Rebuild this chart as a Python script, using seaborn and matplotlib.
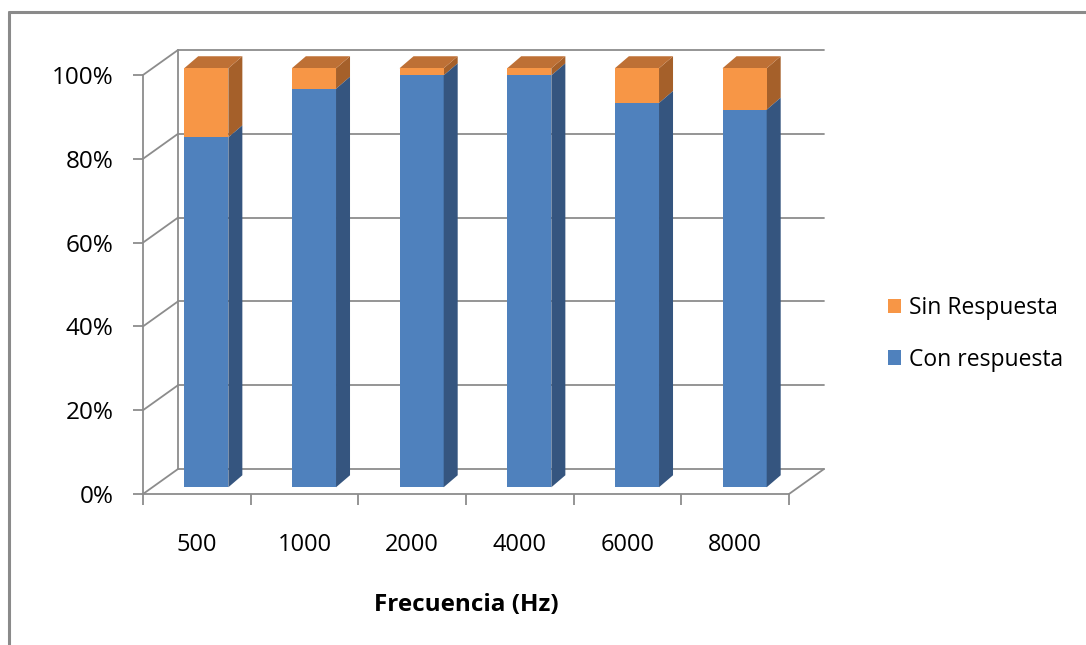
import numpy as np
import pandas as pd
import matplotlib
matplotlib.use("Agg")
import matplotlib.pyplot as plt
import seaborn as sns
from matplotlib.patches import Polygon, Patch
from matplotlib.lines import Line2D

# Datos
frecuencias = ["500", "1000", "2000", "4000", "6000", "8000"]
con_respuesta = [83.5, 95.1, 98.3, 98.3, 91.7, 90.1]
sin_respuesta = [100 - v for v in con_respuesta]
series = ["Sin Respuesta", "Con respuesta"]
yticks = [0, 20, 40, 60, 80, 100]
ytick_labels = ["0%", "20%", "40%", "60%", "80%", "100%"]

azul = "#4F81BD"
azul_lado = "#35557F"
naranja = "#F79646"
naranja_lado = "#A5602A"
naranja_top = "#BE7035"
gris = "#8C8C8C"

sns.set_style("white")
plt.rcParams["font.family"] = ["Open Sans", "DejaVu Sans"]
plt.rcParams["text.color"] = "black"
plt.rcParams["xtick.labelcolor"] = "black"
plt.rcParams["ytick.labelcolor"] = "black"
plt.rcParams["axes.labelcolor"] = "black"

W, H = 1086, 645
fig = plt.figure(figsize=(W / 100, H / 100), dpi=100)
ax = fig.add_axes([143 / W, (H - 494) / H, (789 - 143) / W, (494 - 75) / H])

df = pd.DataFrame({"Frecuencia": frecuencias,
                   "total": [100] * len(frecuencias),
                   "con": con_respuesta})

# barras frontales (naranja = total, azul encima)
ancho = 0.41
sns.barplot(data=df, x="Frecuencia", y="total", order=frecuencias, color=naranja,
            width=ancho, saturation=1, ax=ax, edgecolor="none")
n_nar = len(ax.patches)
sns.barplot(data=df, x="Frecuencia", y="con", order=frecuencias, color=azul,
            width=ancho, saturation=1, ax=ax, edgecolor="none")

ax.set_xlim(-0.5, len(frecuencias) - 0.5)
ax.set_ylim(0, 100)

# profundidad 3D en unidades de datos
px_x = (789 - 143) / len(frecuencias)
px_y = (494 - 75) / 100
DX, DY = 35 / px_x, 25 / px_y          # pared del fondo
f0 = 0.27                               # posición de la cara frontal de las barras
bdx, bdy = 14 / px_x, 12 / px_y         # profundidad de cada barra

# pared del fondo y suelo
for y in yticks:
    ax.plot([-0.5, -0.5 + DX], [y, y + DY], color=gris, lw=1.3, clip_on=False, zorder=0)
    ax.plot([-0.5 + DX, 5.5 + DX], [y + DY, y + DY], color=gris, lw=1.3, clip_on=False, zorder=0)
ax.plot([-0.5 + DX, -0.5 + DX], [DY, 100 + DY], color=gris, lw=1.3, clip_on=False, zorder=0)
ax.plot([5.5, 5.5 + DX], [0, DY], color=gris, lw=1.3, clip_on=False, zorder=0)

# desplazar barras y añadir caras laterales / superiores
ox, oy = f0 * DX, f0 * DY
for i, p in enumerate(list(ax.patches)):
    p.set_x(p.get_x() + ox)
    p.set_y(p.get_y() + oy)
    p.set_zorder(3)
    x0, y0 = p.get_x(), p.get_y()
    w, h = p.get_width(), p.get_height()
    if i < n_nar:
        ybot = con_respuesta[i] + oy
        lado = Polygon([(x0 + w, ybot), (x0 + w + bdx, ybot + bdy),
                        (x0 + w + bdx, y0 + h + bdy), (x0 + w, y0 + h)],
                       closed=True, facecolor=naranja_lado, edgecolor="none",
                       zorder=2, clip_on=False)
        top = Polygon([(x0, y0 + h), (x0 + bdx, y0 + h + bdy),
                       (x0 + w + bdx, y0 + h + bdy), (x0 + w, y0 + h)],
                      closed=True, facecolor=naranja_top, edgecolor="none",
                      zorder=2, clip_on=False)
        ax.add_patch(lado)
        ax.add_patch(top)
    else:
        lado = Polygon([(x0 + w, y0), (x0 + w + bdx, y0 + bdy),
                        (x0 + w + bdx, y0 + h + bdy), (x0 + w, y0 + h)],
                       closed=True, facecolor=azul_lado, edgecolor="none",
                       zorder=4, clip_on=False)
        ax.add_patch(lado)
    p.set_clip_on(False)

# ejes
sns.despine(ax=ax, top=True, right=True)
for s in ["left", "bottom"]:
    ax.spines[s].set_color(gris)
    ax.spines[s].set_linewidth(1.3)
ax.set_yticks(yticks)
ax.set_yticklabels(ytick_labels, fontsize=17.5)
ax.tick_params(axis="y", length=7, width=1.3, color=gris, pad=14, left=True)
ax.set_xticks(np.arange(-0.5, len(frecuencias), 1.0))
ax.set_xticklabels([])
ax.set_xticks(np.arange(len(frecuencias)), minor=True)
ax.set_xticklabels(frecuencias, minor=True, fontsize=17)
ax.tick_params(axis="x", which="major", length=8, width=1.3, color=gris, bottom=True)
ax.tick_params(axis="x", which="minor", length=0, pad=28)
ax.set_xlabel("Frecuencia (Hz)", fontsize=17.5, fontweight="bold", labelpad=26)
ax.set_ylabel("")
ax.grid(False)

# leyenda
handles = [Patch(facecolor=naranja, edgecolor="none"),
           Patch(facecolor=azul, edgecolor="none")]
fig.legend(handles, series, loc="center left", bbox_to_anchor=(867 / W, 1 - 334 / H),
           frameon=False, fontsize=16.5, handlelength=0.6, handleheight=0.6,
           labelspacing=1.2, handletextpad=0.35)

# marco del gráfico (izquierda y arriba)
fig.add_artist(Line2D([9 / W, 9 / W], [0, 1 - 12 / H], color="#8A8A8A", lw=2.2))
fig.add_artist(Line2D([9 / W, 1], [1 - 12 / H, 1 - 12 / H], color="#8A8A8A", lw=2.2))

fig.savefig("out.png", dpi=100)
